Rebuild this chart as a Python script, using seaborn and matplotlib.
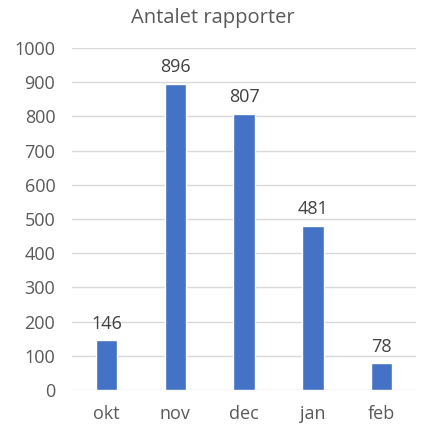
import pandas as pd
import seaborn as sns
from matplotlib import pyplot as plt

months = ["okt", "nov", "dec", "jan", "feb"]
counts = [146, 896, 807, 481, 78]

df = pd.DataFrame({"month": months, "count": counts})

sns.set_theme(style="white")
plt.rcParams['font.family'] = ['Open Sans', 'DejaVu Sans']
text_col = "#595959"

fig = plt.figure(figsize=(4.26, 4.32), dpi=100)
ax = fig.add_axes([0.169, 0.097, 0.808, 0.792])

sns.barplot(data=df, x="month", y="count", color="#4472C4", saturation=1,
            width=0.31, ax=ax, zorder=3)

for i, v in enumerate(counts):
    ax.text(i, v + 22, str(v), ha="center", va="bottom", fontsize=13, color="#404040")

ax.set_ylim(0, 1000)
ax.set_xlim(-0.5, 4.5)
ax.set_yticks(range(0, 1001, 100))
ax.yaxis.grid(True, color="#d9d9d9", linewidth=1, zorder=0)
ax.set_axisbelow(True)
for s in ax.spines.values():
    s.set_visible(False)
ax.tick_params(axis="both", length=0, labelsize=13, colors=text_col)
ax.tick_params(axis="y", pad=12)
ax.tick_params(axis="x", pad=11)
ax.set_xlabel("")
ax.set_ylabel("")
fig.suptitle("Antalet rapporter", y=0.982, fontsize=14.5, color=text_col)

fig.savefig("out.png", dpi=100, facecolor="white")
